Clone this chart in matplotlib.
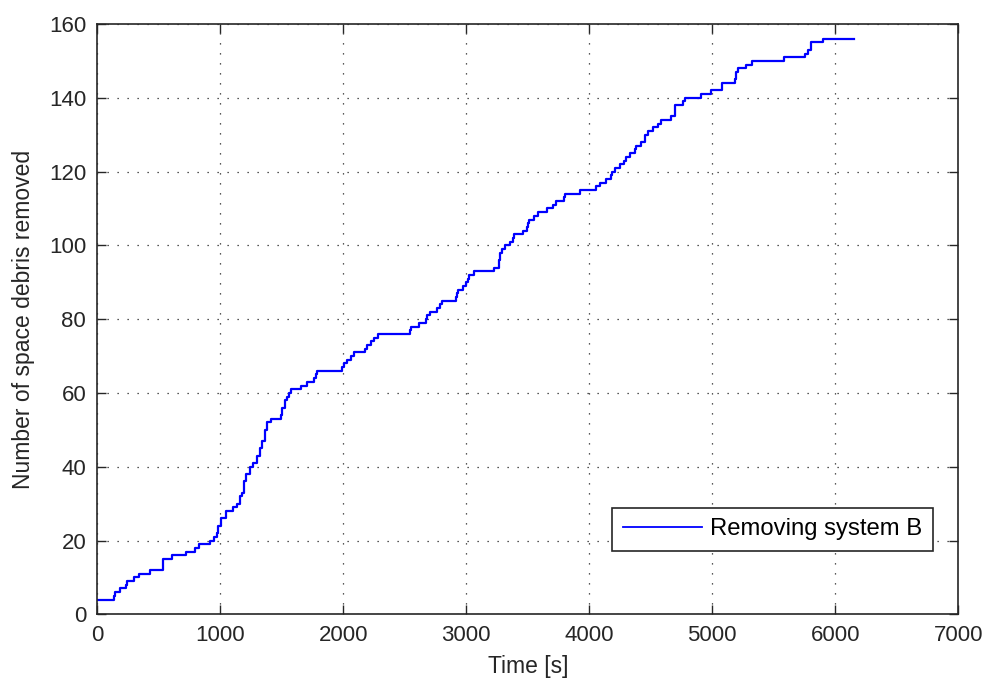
import matplotlib
matplotlib.use("Agg")
import matplotlib.pyplot as plt

# cumulative count of removed debris, stepping at each removal time
step_times = [
    0, 138, 145, 187, 236, 242, 301, 337, 432, 535, 608, 717, 798, 830, 920,
    945, 970, 985, 1002, 1050, 1105, 1132, 1159, 1175, 1192, 1210, 1240, 1268,
    1300, 1322, 1340, 1360, 1382, 1409, 1490, 1505, 1525, 1545, 1560, 1572,
    1653, 1702, 1762, 1775, 1789, 1993, 2005, 2033, 2060, 2088, 2174, 2196,
    2223, 2250, 2283, 2543, 2550, 2617, 2671, 2680, 2706, 2761, 2790, 2799,
    2915, 2925, 2934, 2970, 2997, 3010, 3024, 3059, 3222, 3268, 3275, 3287,
    3314, 3357, 3377, 3391, 3458, 3493, 3502, 3513, 3553, 3581, 3656, 3703,
    3730, 3792, 3800, 3927, 4055, 4090, 4137, 4178, 4185, 4210, 4253, 4286,
    4295, 4327, 4373, 4380, 4422, 4449, 4455, 4476, 4517, 4558, 4585, 4666,
    4693, 4761, 4775, 4910, 4990, 5075, 5181, 5195, 5209, 5277, 5326, 5584,
    5757, 5780, 5800, 5806, 5901, 6154,
]
step_counts = [
    4, 5, 6, 7, 8, 9, 10, 11, 12, 15, 16, 17, 18, 19, 20,
    21, 22, 24, 26, 28, 29, 30, 32, 33, 36, 38, 40, 41,
    43, 45, 47, 50, 52, 53, 54, 56, 58, 59, 60, 61,
    62, 63, 64, 65, 66, 67, 68, 69, 70, 71, 72, 73,
    74, 75, 76, 77, 78, 79, 80, 81, 82, 83, 84, 85,
    86, 87, 88, 89, 90, 91, 92, 93, 94, 96, 98, 99,
    100, 101, 102, 103, 104, 105, 106, 107, 108, 109, 110, 111,
    112, 113, 114, 115, 116, 117, 118, 119, 120, 121, 122, 123,
    124, 125, 126, 127, 128, 129, 130, 131, 132, 133, 134, 135,
    138, 139, 140, 141, 142, 144, 145, 147, 148, 149, 150, 151,
    152, 153, 154, 155, 156, 156,
]

x_ticks = [0, 1000, 2000, 3000, 4000, 5000, 6000, 7000]
y_ticks = [0, 20, 40, 60, 80, 100, 120, 140, 160]

plt.rcParams["font.family"] = ["Liberation Sans", "DejaVu Sans"]

fig = plt.figure(figsize=(9.87, 6.84), dpi=100, facecolor="white")
ax = fig.add_axes([0.0986, 0.1019, 0.8723, 0.8630])

ax.step(step_times, step_counts, where="post", color="#0000ff",
        linewidth=1.6, label="Removing system B")

ax.set_xlim(0, 7000)
ax.set_ylim(0, 160)
ax.set_xticks(x_ticks)
ax.set_yticks(y_ticks)
ax.tick_params(direction="in", length=6.5, width=1.0, top=True, right=True,
               labelsize=16, color="#262626", labelcolor="#262626", pad=8)
for spine in ax.spines.values():
    spine.set_color("#262626")
    spine.set_linewidth(1.2)

ax.grid(True, color="#222222", linestyle=(0, (1, 7)), linewidth=0.9)

ax.set_xlabel("Time [s]", fontsize=16.5, color="#262626", labelpad=6)
ax.set_ylabel("Number of space debris removed", fontsize=16.5,
              color="#262626", labelpad=10)

leg = ax.legend(loc="lower right", bbox_to_anchor=(0.9706, 0.107),
                fontsize=17.2, fancybox=False, framealpha=1,
                edgecolor="#262626", handlelength=3.3, borderpad=0.45,
                handletextpad=0.35, borderaxespad=0)
leg.get_frame().set_linewidth(1.2)
for handle in leg.legend_handles:
    handle.set_linewidth(1.3)

fig.savefig("out.png", dpi=100, facecolor="white")
plt.close(fig)
